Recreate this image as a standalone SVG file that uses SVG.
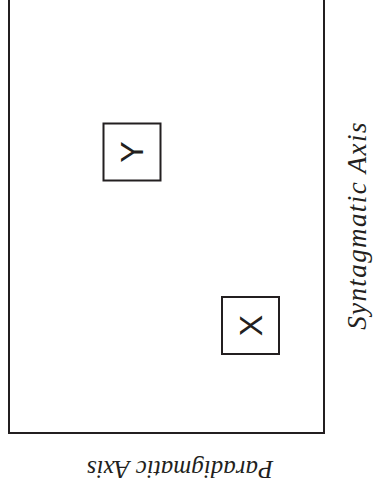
<svg xmlns="http://www.w3.org/2000/svg" width="374" height="491" viewBox="0 0 374 491">
<style>
.frame{fill:none;stroke:#231f20;stroke-width:2}
.box{fill:#fff;stroke:#231f20;stroke-width:2}
.sym{font-size:32px;fill:#231f20;text-anchor:middle;dominant-baseline:central}
.axis{font-style:italic;fill:#231f20;text-anchor:middle}
</style>
<rect x="0" y="0" width="374" height="491" fill="#fff"/>
<g id="field">
<rect class="frame" x="9" y="-10" width="315" height="443"/>
</g>
<g id="nodeY">
<rect class="box" x="103.5" y="123.5" width="57" height="57"/>
<text class="sym" font-family="Liberation Sans, Arial, sans-serif" transform="translate(132,152) rotate(-90)" x="0" y="0">Y</text>
</g>
<g id="nodeX">
<rect class="box" x="222" y="297" width="57" height="57"/>
<text class="sym" font-family="Liberation Sans, Arial, sans-serif" transform="translate(250.5,325.5) rotate(-90)" x="0" y="0">X</text>
</g>
<g id="connectors"></g>
<g id="labels">
<text class="axis" font-family="Liberation Serif, serif" font-size="25" transform="translate(180,461) rotate(180)">Paradigmatic Axis</text>
<text class="axis" font-family="Liberation Serif, serif" font-size="27" letter-spacing="1.4" transform="translate(366,225.5) rotate(-90)">Syntagmatic Axis</text>
</g>
</svg>
